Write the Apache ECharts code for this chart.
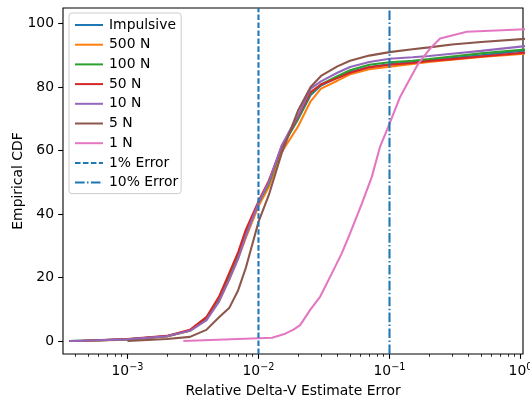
<!DOCTYPE html>
<html>
<head>
<meta charset="utf-8">
<script src="https://cdn.jsdelivr.net/npm/echarts@6/dist/echarts.min.js"></script>
<style>
  html, body { margin: 0; padding: 0; background: #fff; }
  #chart { width: 530px; height: 401px; }
</style>
</head>
<body>
<div id="chart"></div>
<script>
// shared error grid (relative delta-v error) for the clustered curves
const errGrid = [3.6e-4, 4.5e-4, 1e-3, 2e-3, 3e-3, 4e-3, 5e-3, 6e-3, 7e-3, 8e-3,
  1e-2, 1.2e-2, 1.5e-2, 2e-2, 2.5e-2, 3e-2, 4e-2, 5e-2, 7e-2, 1e-1,
  1.5e-1, 2e-1, 3e-1, 5e-1, 1.2];

const cdfImpulsive = [0, 0.1, 0.5, 1.5, 3.3, 7, 13, 20.5, 27, 33.5, 43.5, 49.5, 61, 69.8, 77.5, 80.5, 83, 84.7, 86.3, 87.2, 87.9, 88.4, 89.1, 90.0, 91.7];
const cdf500N = [null, 0, 0.4, 1.4, 3.2, 6.8, 12.5, 19.5, 26, 32.5, 42.5, 48.5, 59.5, 67.5, 75.5, 79.5, 82, 84, 85.6, 86.4, 87.3, 87.9, 88.6, 89.5, 90.6];
const cdf100N = [0, 0.1, 0.5, 1.5, 3.3, 7, 13, 20.5, 27, 33.5, 43.5, 49.5, 61, 70, 78, 80.8, 83.4, 85.3, 87, 87.8, 88.3, 88.8, 89.6, 90.6, 92.0];
const cdf50N = [0, 0.1, 0.6, 1.6, 3.5, 7.5, 14, 21.5, 28, 35, 44, 50.5, 61, 70.6, 78.4, 80.8, 82.8, 84.5, 86.2, 87.0, 87.6, 88.2, 88.8, 89.6, 91.0];
const cdf10N = [0, 0.1, 0.5, 1.5, 3.2, 6.5, 12.5, 19.5, 26, 33, 43.5, 50, 61.5, 71, 79.5, 81.8, 84.5, 86.3, 87.9, 88.9, 89.4, 89.8, 90.5, 91.4, 93.1];
const cdf5N = [null, null, 0, 0.6, 1.3, 3.5, 7.5, 10.5, 16, 23, 37.5, 46, 59, 72.5, 80, 83.5, 86.5, 88.3, 89.9, 91, 91.9, 92.5, 93.4, 94.2, 95.3];

// 1 N has its own grid
const err1N = [0.00267, 0.0127, 0.016, 0.0185, 0.0208, 0.0248, 0.0296, 0.0363, 0.0432, 0.05, 0.0615,
  0.0733, 0.0847, 0.098, 0.1205, 0.1436, 0.166, 0.204, 0.243, 0.389, 1.11];
const cdf1N = [0, 1.0, 2.3, 3.6, 5.0, 9.8, 14.0, 21.3, 27.6, 33.9, 43.3,
  51.7, 61.2, 67.5, 76.9, 82.7, 87.4, 92.1, 95.3, 97.4, 98.2];

const errorMarks = [0.01, 0.1];
const majorTicks = [1e-3, 1e-2, 1e-1, 1];
const yTicks = [0, 20, 40, 60, 80, 100];

const xMin = -3.492, xMax = 0.019;
const yMin = -4.1, yMax = 104.9;

const minorTicks = [];
for (let d = -4; d <= 0; d++) {
  for (let m = 2; m <= 9; m++) {
    const v = Math.log10(m) + d;
    if (v > xMin && v < xMax) minorTicks.push(v);
  }
}

const font = 'DejaVu Sans';
const lw = 2.08;

function pairs(xs, ys) {
  const out = [];
  for (let i = 0; i < xs.length; i++) {
    out.push([Math.log10(xs[i]), ys[i]]);
  }
  return out;
}

function curve(name, color, ys, xs) {
  return {
    name: name,
    type: 'line',
    data: pairs(xs || errGrid, ys),
    symbol: 'none',
    color: color,
    itemStyle: { opacity: 0 },
    lineStyle: { width: lw, color: color },
    clip: true,
    animation: false,
  };
}

function vline(name, x, dash) {
  return {
    name: name,
    type: 'line',
    data: [[Math.log10(x), yMin], [Math.log10(x), yMax]],
    symbol: 'none',
    color: '#1f77b4',
    itemStyle: { opacity: 0 },
    lineStyle: { width: lw, color: '#1f77b4', type: dash },
    animation: false,
  };
}

const chart = echarts.init(document.getElementById('chart'));

const option = {
  backgroundColor: '#fff',
  animation: false,
  textStyle: { fontFamily: font },
  grid: {
    left: 63, right: 7, top: 8, bottom: 47,
    outerBoundsMode: 'none',
    containLabel: false,
    show: true, borderColor: '#000', borderWidth: 1.1,
    backgroundColor: 'transparent',
  },
  legend: {
    left: 69, top: 13,
    orient: 'vertical',
    itemWidth: 28, itemHeight: 12, itemGap: 5.7,
    padding: [5, 3, 4, 5],
    backgroundColor: 'rgba(255,255,255,0.8)',
    borderColor: '#cccccc', borderWidth: 1, borderRadius: 3,
    itemStyle: { opacity: 0 },
    textStyle: { fontFamily: font, fontSize: 13.9, color: '#000', padding: [0, 0, 0, 1] },
    data: ['Impulsive', '500 N', '100 N', '50 N', '10 N', '5 N', '1 N', '1% Error', '10% Error'],
  },
  xAxis: [
    {
      type: 'value', min: xMin, max: xMax,
      position: 'bottom',
      name: 'Relative Delta-V Estimate Error',
      nameLocation: 'middle', nameGap: 30,
      nameTextStyle: { fontFamily: font, fontSize: 13.9, color: '#000' },
      axisLine: { show: false, onZero: false },
      splitLine: { show: false },
      axisTick: {
        show: true, inside: false, length: 4.86,
        lineStyle: { color: '#000', width: 1.1 },
        customValues: majorTicks.map(Math.log10),
      },
      axisLabel: {
        margin: 8,
        fontFamily: font, fontSize: 13.9, color: '#000',
        customValues: majorTicks.map(Math.log10),
        formatter: function (v) {
          const e = Math.round(v);
          return '10{sup|' + (e < 0 ? '\u2212' + (-e) : e) + '}';
        },
        rich: {
          sup: { fontFamily: font, fontSize: 9.7, color: '#000', padding: [0, 0, 9, 0] },
        },
      },
    },
    {
      type: 'value', min: xMin, max: xMax,
      position: 'bottom', offset: 0,
      axisLine: { show: false, onZero: false },
      splitLine: { show: false },
      axisLabel: { show: false },
      axisTick: {
        show: true, inside: false, length: 2.78,
        lineStyle: { color: '#000', width: 0.83 },
        customValues: minorTicks,
      },
    },
  ],
  yAxis: {
    type: 'value', min: yMin, max: yMax,
    name: 'Empirical CDF',
    nameLocation: 'middle', nameGap: 38,
    nameMoveOverlap: false,
    nameTextStyle: { fontFamily: font, fontSize: 13.9, color: '#000' },
    axisLine: { show: false, onZero: false },
    splitLine: { show: false },
    axisTick: {
      show: true, inside: false, length: 4.86,
      lineStyle: { color: '#000', width: 1.1 },
      customValues: yTicks,
    },
    axisLabel: {
      margin: 9,
      fontFamily: font, fontSize: 13.9, color: '#000',
      customValues: yTicks,
    },
  },
  series: [
    curve('Impulsive', '#1f77b4', cdfImpulsive),
    curve('500 N', '#ff7f0e', cdf500N),
    curve('100 N', '#2ca02c', cdf100N),
    curve('50 N', '#d62728', cdf50N),
    curve('10 N', '#9467bd', cdf10N),
    curve('5 N', '#8c564b', cdf5N),
    curve('1 N', '#e377c2', cdf1N, err1N),
    vline('1% Error', errorMarks[0], [5.55, 2.4]),
    vline('10% Error', errorMarks[1], [9.6, 2.4, 1.5, 2.4]),
  ],
};

chart.setOption(option);
</script>
</body>
</html>
